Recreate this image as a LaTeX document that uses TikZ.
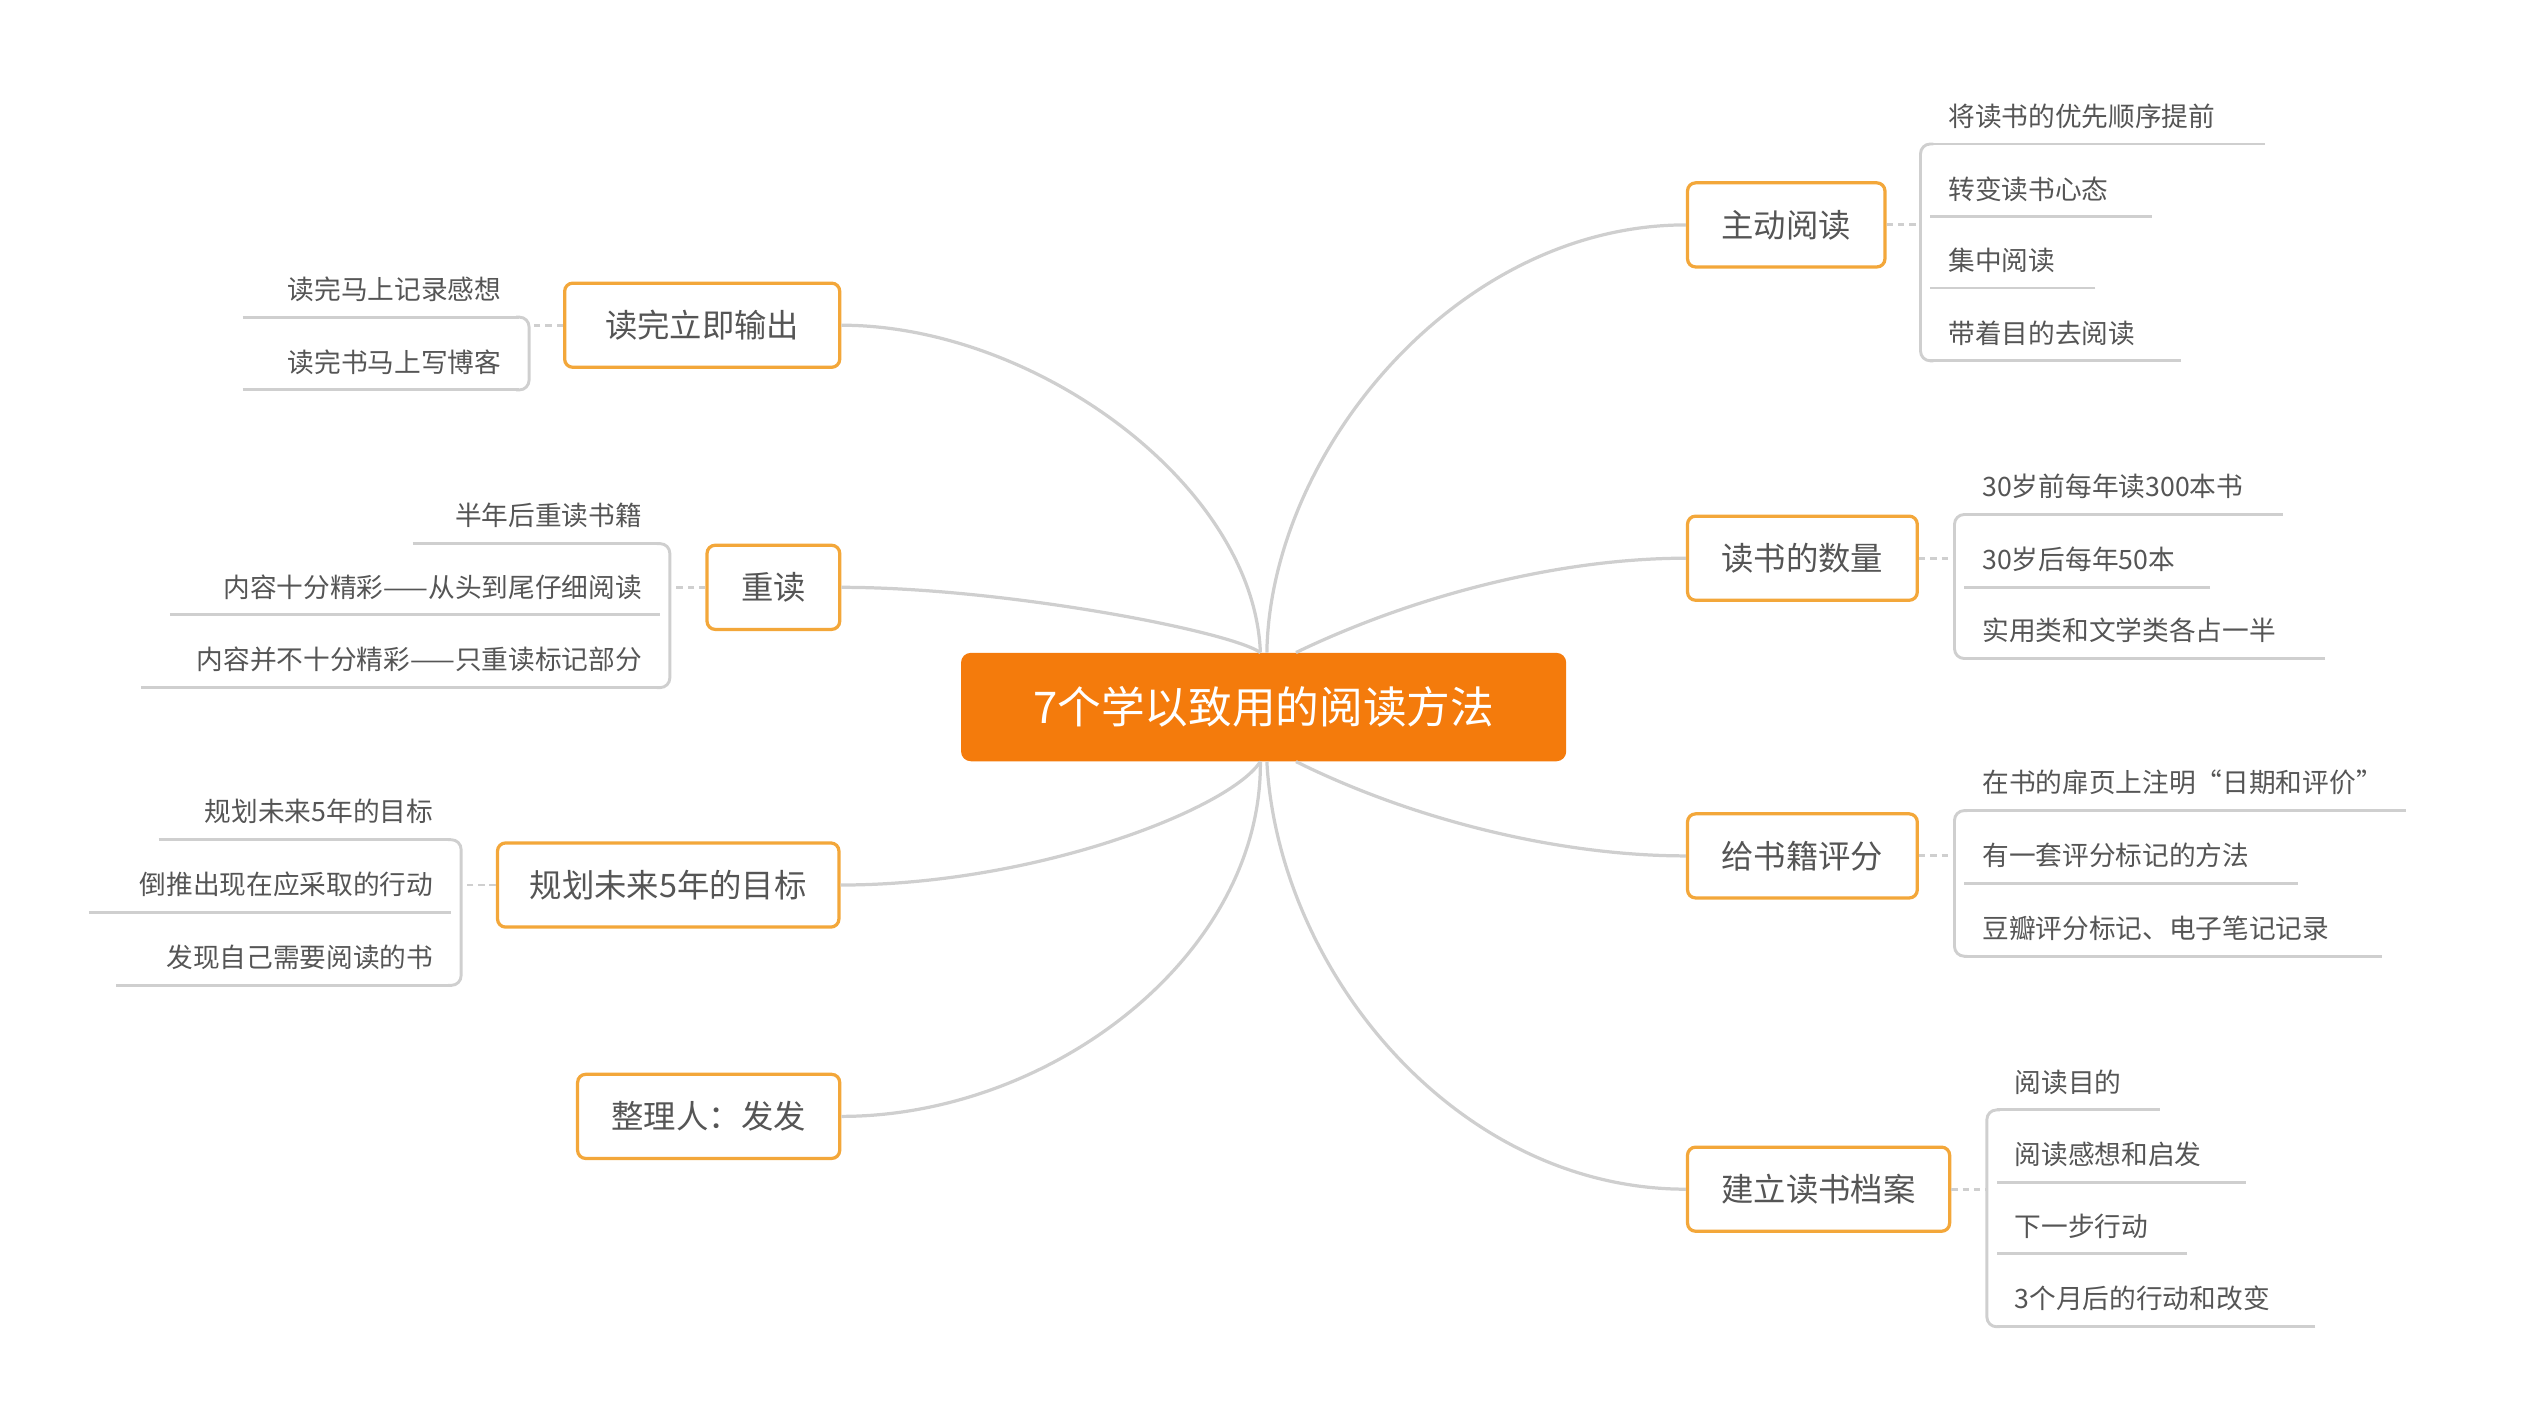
\documentclass[tikz,border=0pt]{standalone}
\usepackage{fontspec}
\setmainfont{Noto Sans CJK SC}
\definecolor{org}{HTML}{F47B0C}
\definecolor{bord}{HTML}{F3A73A}
\definecolor{lin}{HTML}{CFCFCF}
\definecolor{txt}{HTML}{555555}
\begin{document}
\begin{tikzpicture}[x=1pt,y=-1pt,
  root/.style={fill=org,rounded corners=6pt,text=white,minimum width=374pt,minimum height=67pt,font=\fontsize{27}{30}\selectfont},
  branch/.style={draw=bord,line width=2pt,fill=white,rounded corners=5pt,text=txt,minimum height=52pt,inner xsep=0pt,font=\fontsize{20}{24}\selectfont},
  leaf/.style={text=txt,inner sep=0pt,font=\fontsize{16.5}{20}\selectfont},
  conn/.style={draw=lin,line width=2pt},
  ul/.style={draw=lin,line width=1.8pt,rounded corners=6pt},
  dsh/.style={draw=lin,line width=1.8pt,dash pattern=on 4pt off 3pt}]
\useasboundingbox (0,0) rectangle (1560,870);
\node[root] (c) at (781,437) {7个学以致用的阅读方法};
\node[branch,minimum width=122pt] (b1) at (1104,139) {主动阅读};
\node[branch,minimum width=142pt] (b2) at (1114,345) {读书的数量};
\node[branch,minimum width=142pt] (b3) at (1114,529) {给书籍评分};
\node[branch,minimum width=162pt] (b4) at (1124,735) {建立读书档案};
\node[branch,minimum width=170pt] (b5) at (434,201) {读完立即输出};
\node[branch,minimum width=82pt] (b6) at (478,363) {重读};
\node[branch,minimum width=211pt] (b7) at (413,547) {规划未来5年的目标};
\node[branch,minimum width=162pt] (b8) at (438,690) {整理人：发发};
% connectors
\draw[conn] ([xshift=2pt]c.north) .. controls (785,280) and (900,139) .. (b1.west);
\draw[conn] ([xshift=20pt]c.north) .. controls (870,370) and (960,345) .. (b2.west);
\draw[conn] ([xshift=20pt]c.south) .. controls (870,505) and (960,529) .. (b3.west);
\draw[conn] ([xshift=2pt]c.south) .. controls (790,600) and (900,735) .. (b4.west);
\draw[conn] ([xshift=-2pt]c.north) .. controls (775,300) and (640,201) .. (b5.east);
\draw[conn] ([xshift=-2pt]c.north) .. controls (760,390) and (620,363) .. (b6.east);
\draw[conn] ([xshift=-2pt]c.south) .. controls (760,500) and (640,547) .. (b7.east);
\draw[conn] ([xshift=-2pt]c.south) .. controls (780,590) and (650,690) .. (b8.east);
% right leaves
\foreach \g/\bx/\lst in {
 1/1187/{将读书的优先顺序提前/89/1400,转变读书心态/134/1330,集中阅读/178/1295,带着目的去阅读/223/1348},
 2/1208/{30岁前每年读300本书/318/1411,30岁后每年50本/363/1366,实用类和文学类各占一半/407/1437},
 3/1208/{在书的扉页上注明“日期和评价”/501/1487,有一套评分标记的方法/546/1420,豆瓣评分标记、电子笔记记录/591/1472},
 4/1228/{阅读目的/686/1335,阅读感想和启发/731/1388,下一步行动/775/1352,3个月后的行动和改变/820/1431}}{
  \foreach \t/\u/\e [count=\i] in \lst {
    \node[leaf,anchor=base west] (r\g-\i) at (\bx+17,\u-11) {\t};
    \draw[ul] (\e,\u) -- (\bx+6,\u);
  }
}
\foreach \g/\bx/\a/\b in {1/1187/89/223,2/1208/318/407,3/1208/501/591,4/1228/686/820}{
  \draw[ul] (\bx+8,\a) -- (\bx,\a) -- (\bx,\b) -- (\bx+8,\b);
}
\draw[dsh] (b1.east) -- (1187,139);
\draw[dsh] (b2.east) -- (1208,345);
\draw[dsh] (b3.east) -- (1208,529);
\draw[dsh] (b4.east) -- (1228,735);
% left leaves
\foreach \g/\bx/\lst in {
 5/327/{读完马上记录感想/196/150,读完书马上写博客/241/150},
 6/414/{半年后重读书籍/336/255,内容十分精彩——从头到尾仔细阅读/380/105,内容并不十分精彩——只重读标记部分/425/87},
 7/285/{规划未来5年的目标/519/98,倒推出现在应采取的行动/564/55,发现自己需要阅读的书/609/72}}{
  \foreach \t/\u/\e [count=\i] in \lst {
    \node[leaf,anchor=base east] (l\g-\i) at (\bx-17,\u-11) {\t};
    \draw[ul] (\e,\u) -- (\bx-6,\u);
  }
}
\foreach \bx/\a/\b in {327/196/241,414/336/425,285/519/609}{
  \draw[ul] (\bx-8,\a) -- (\bx,\a) -- (\bx,\b) -- (\bx-8,\b);
}
\draw[dsh] (b5.west) -- (327,201);
\draw[dsh] (b6.west) -- (414,363);
\draw[dsh] (b7.west) -- (285,547);
\end{tikzpicture}
\end{document}
